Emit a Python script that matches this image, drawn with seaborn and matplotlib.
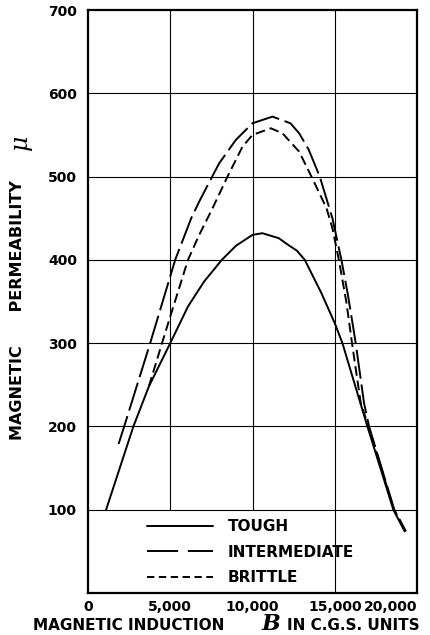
import matplotlib
matplotlib.use("Agg")
import matplotlib.pyplot as plt
import pandas as pd
import seaborn as sns
from matplotlib.lines import Line2D

# Permeability curves of three steel tempers, mu against induction B (C.G.S.)
tough_B = [1100, 2760, 3700, 5000, 6078, 7059, 8137, 9000, 10000, 10600,
           11600, 12166, 12700, 13178, 14190, 15000, 15466, 16984, 18563, 19250]
tough_mu = [100, 200, 248, 300, 344, 374, 400, 417, 430, 432,
            426, 418, 411, 400, 360, 324, 300, 200, 100, 74]

inter_B = [1860, 2200, 3780, 5300, 6275, 6761, 7550, 7976, 8988, 10000,
           11215, 12308, 12834, 13400, 14089, 14858, 15405, 15800, 16113, 16273,
           16781, 17085, 18620, 19330]
inter_mu = [179, 200, 300, 400, 450, 470, 500, 516, 544, 564,
            572, 564, 552, 533, 500, 450, 400, 358, 320, 300,
            228, 200, 100, 74]

brittle_B = [3700, 4500, 5000, 6078, 6761, 7571, 8482, 9393, 10000, 11113,
             11822, 12834, 13583, 14500, 14858, 15250, 15700, 16050, 16580, 17050,
             18600, 19300]
brittle_mu = [248, 300, 332, 400, 430, 462, 500, 536, 550, 558,
              552, 530, 500, 462, 438, 400, 350, 300, 228, 200,
              100, 74]

steel_names = ["TOUGH", "INTERMEDIATE", "BRITTLE"]
x_ticks = [0, 5000, 10000, 15000, 20000]
x_tick_labels = ["0", "5,000", "10,000", "15,000", "20,000"]
y_ticks = [100, 200, 300, 400, 500, 600, 700]

df = pd.concat([
    pd.DataFrame({"B": tough_B, "mu": tough_mu, "steel": steel_names[0]}),
    pd.DataFrame({"B": inter_B, "mu": inter_mu, "steel": steel_names[1]}),
    pd.DataFrame({"B": brittle_B, "mu": brittle_mu, "steel": steel_names[2]}),
], ignore_index=True)

sns.set_style("white")
plt.rcParams["font.family"] = ["DejaVu Sans"]
plt.rcParams.update({"text.color": "black", "axes.labelcolor": "black",
                     "xtick.color": "black", "ytick.color": "black"})

W, H = 430, 635
fig = plt.figure(figsize=(W / 100, H / 100), dpi=100)
ax = fig.add_axes([88 / W, 1 - 593 / H, (417 - 88) / W, (593 - 10) / H])

# grid: horizontal lines full width, verticals at 5000/10000 stop above the key
for y in y_ticks[:-1]:
    ax.axhline(y, color="black", lw=0.8, zorder=1)
ax.vlines([5000, 10000], 100, 700, color="black", lw=0.8, zorder=1)
ax.vlines([15000], 0, 700, color="black", lw=0.8, zorder=1)

line_dashes = {"TOUGH": "", "INTERMEDIATE": (15, 3), "BRITTLE": (5, 2.5)}
sns.lineplot(data=df, x="B", y="mu", style="steel", style_order=steel_names,
             dashes=line_dashes, color="black", linewidth=1.4,
             estimator=None, sort=True, legend=False, ax=ax, zorder=3)

ax.set_xlim(0, 20000)
ax.set_ylim(0, 700)
ax.set_xticks(x_ticks)
ax.set_xticklabels(x_tick_labels)
ax.set_yticks(y_ticks)
ax.set_yticklabels([str(v) for v in y_ticks])
ax.tick_params(axis="y", length=0, pad=8, labelsize=10, labelcolor="black")
ax.tick_params(axis="x", direction="in", length=5, width=0.8, pad=5,
               labelsize=10, color="black", labelcolor="black")
for lab in ax.get_xticklabels() + ax.get_yticklabels():
    lab.set_fontweight("bold")
ax.get_xticklabels()[-1].set_ha("right")

for s in ax.spines.values():
    s.set_visible(True)
    s.set_color("black")
    s.set_linewidth(1.6)

ax.set_xlabel("")
ax.set_ylabel("MAGNETIC      PERMEABILITY", fontsize=11.5, fontweight="bold",
              color="black")
ax.yaxis.set_label_coords(-0.19, (593 - 310) / 583)
# the permeability symbol, set large in a script-like italic
fig.text(20 / W, 1 - 142 / H, "\u03bc", rotation=90, ha="center", va="center",
         fontsize=17, family="DejaVu Serif", style="italic", color="black")

# axis title along the bottom, with a large italic B
base_y = 5 / H
fig.text(129 / W, base_y, "MAGNETIC INDUCTION", ha="center", va="baseline",
         fontsize=11, fontweight="bold", color="black")
fig.text(271 / W, base_y, "B", ha="center", va="baseline", fontsize=16,
         family="DejaVu Serif", style="italic", fontweight="bold", color="black")
fig.text(353 / W, base_y, "IN C.G.S. UNITS", ha="center", va="baseline",
         fontsize=11, fontweight="bold", color="black")

handles = [
    Line2D([], [], color="black", lw=1.4, ls="-"),
    Line2D([], [], color="black", lw=1.4, dashes=(16, 5)),
    Line2D([], [], color="black", lw=1.4, dashes=(3.8, 2.3)),
]
ax.legend(handles, steel_names, loc="upper left", bbox_to_anchor=(0.179, 0.127),
          frameon=False, borderpad=0, borderaxespad=0, handlelength=4.3,
          handletextpad=1.0, labelspacing=0.7, labelcolor="black",
          prop={"weight": "bold", "size": 11})

fig.savefig("out.png", dpi=100)
